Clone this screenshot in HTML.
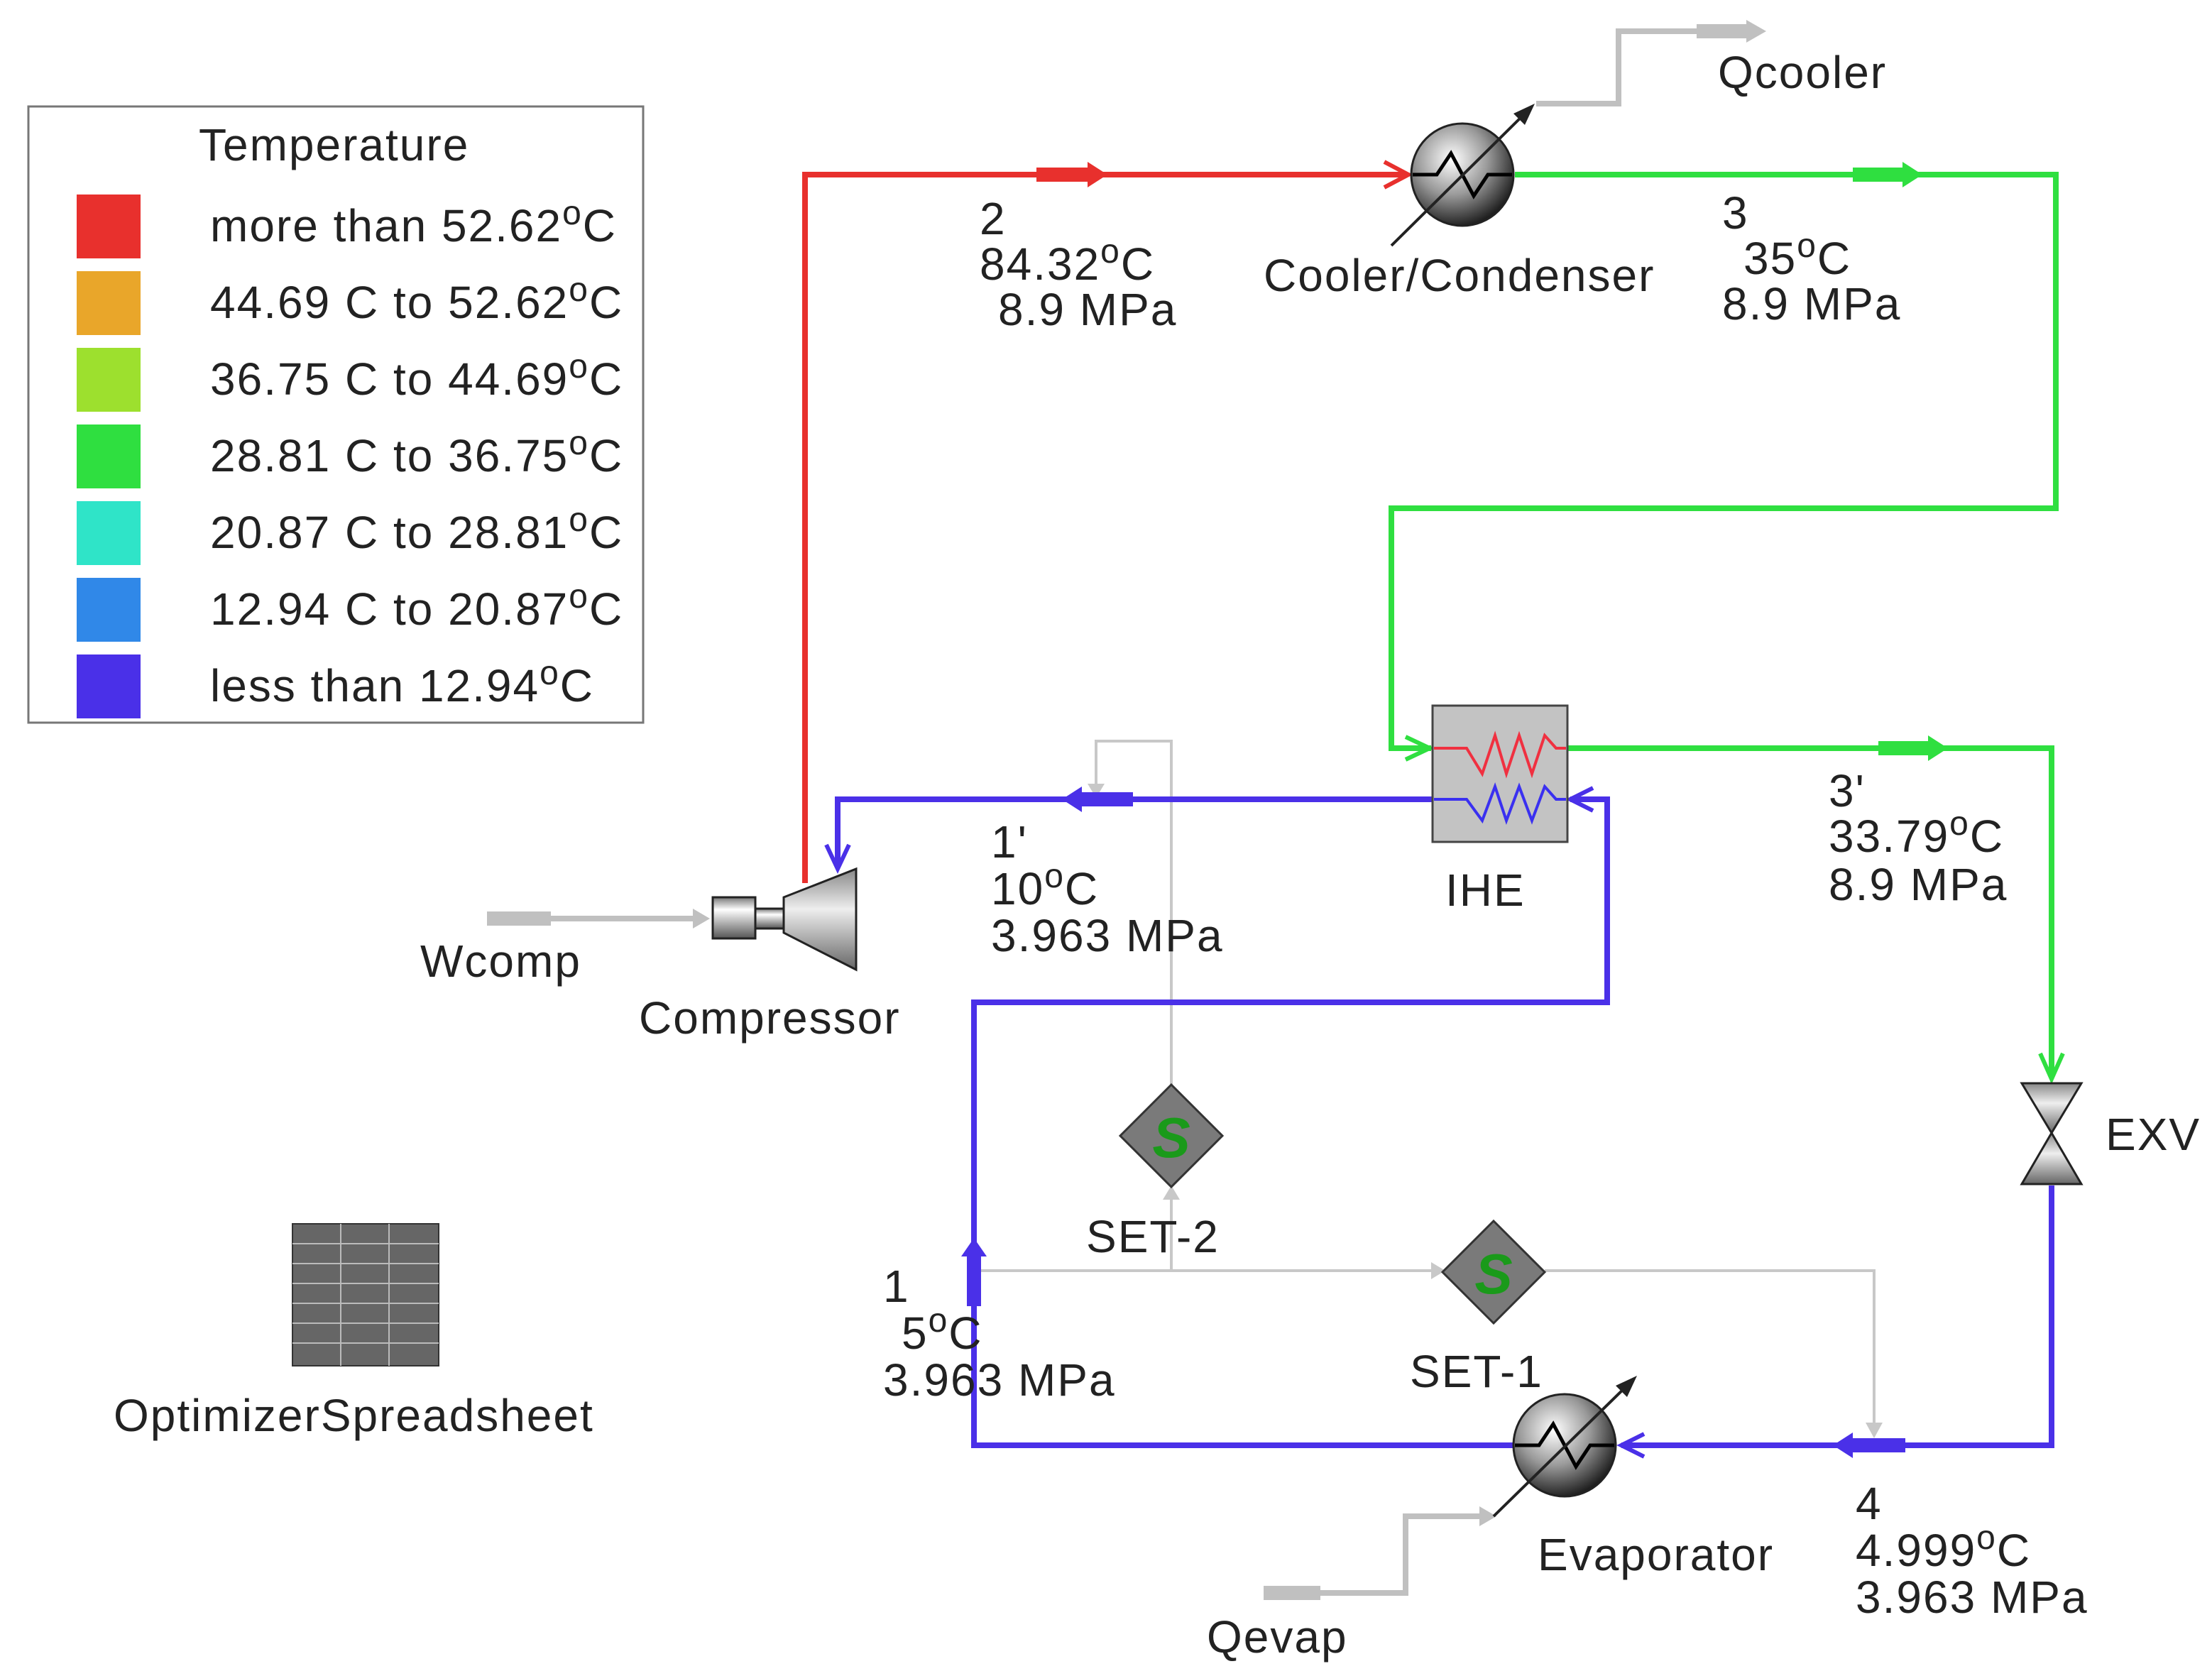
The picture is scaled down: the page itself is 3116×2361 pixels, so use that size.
<!DOCTYPE html>
<html><head><meta charset="utf-8"><style>html,body{margin:0;padding:0;background:#fff}svg{display:block}text{font-family:"Liberation Sans",sans-serif;fill:#222}</style></head><body>
<svg width="3116" height="2361" viewBox="0 0 1558 1180.5" xmlns="http://www.w3.org/2000/svg">
<defs>
<radialGradient id="g1" cx="40%" cy="35%" r="70%"><stop offset="0" stop-color="#fff"/><stop offset="0.5" stop-color="#999"/><stop offset="1" stop-color="#111"/></radialGradient>
<linearGradient id="g2" x1="0" y1="0" x2="0" y2="1"><stop offset="0" stop-color="#777"/><stop offset="0.3" stop-color="#fff"/><stop offset="1" stop-color="#555"/></linearGradient>
<linearGradient id="g3" x1="0" y1="0" x2="0" y2="1"><stop offset="0" stop-color="#888"/><stop offset="0.4" stop-color="#eee"/><stop offset="1" stop-color="#666"/></linearGradient>
</defs>
<rect x="20" y="75" width="433" height="434" fill="#fff" stroke="#777" stroke-width="1.5"/>
<g font-size="32" letter-spacing="1">
<text x="140" y="113">Temperature</text>
<rect x="54" y="137" width="45" height="45" fill="#e8302d"/><text x="148" y="170">more than 52.62<tspan dy="-12" font-size="24">o</tspan><tspan dy="12">C</tspan></text>
<rect x="54" y="191" width="45" height="45" fill="#e9a62a"/><text x="148" y="224">44.69 C to 52.62<tspan dy="-12" font-size="24">o</tspan><tspan dy="12">C</tspan></text>
<rect x="54" y="245" width="45" height="45" fill="#9de02e"/><text x="148" y="278">36.75 C to 44.69<tspan dy="-12" font-size="24">o</tspan><tspan dy="12">C</tspan></text>
<rect x="54" y="299" width="45" height="45" fill="#2fdf40"/><text x="148" y="332">28.81 C to 36.75<tspan dy="-12" font-size="24">o</tspan><tspan dy="12">C</tspan></text>
<rect x="54" y="353" width="45" height="45" fill="#2fe4c8"/><text x="148" y="386">20.87 C to 28.81<tspan dy="-12" font-size="24">o</tspan><tspan dy="12">C</tspan></text>
<rect x="54" y="407" width="45" height="45" fill="#3088e8"/><text x="148" y="440">12.94 C to 20.87<tspan dy="-12" font-size="24">o</tspan><tspan dy="12">C</tspan></text>
<rect x="54" y="461" width="45" height="45" fill="#4a30e8"/><text x="148" y="494">less than 12.94<tspan dy="-12" font-size="24">o</tspan><tspan dy="12">C</tspan></text>
</g>
<g stroke="#c8c8c8" stroke-width="2" fill="none">
<polyline points="825,765 825,522 772,522 772,555"/>
<polyline points="825,895 825,842"/>
<polyline points="686,895 1012,895"/>
<polyline points="1088,895 1320,895 1320,1010"/>
</g>
<g fill="#c8c8c8">
<polygon points="766,552 778,552 772,562"/><polygon points="819,845 831,845 825,835"/><polygon points="1008,889 1008,901 1018,895"/><polygon points="1314,1002 1326,1002 1320,1013"/>
</g>
<g stroke="#c0c0c0" stroke-width="4" fill="none">
<polyline points="343,647 495,647"/>
<polyline points="1082,73 1140,73 1140,22 1235,22"/>
<polyline points="890,1122 990,1122 990,1068 1048,1068"/>
</g>
<g fill="#c0c0c0"><polygon points="488,640 500,647 488,654"/><polygon points="1230,14 1244,22 1230,30"/><polygon points="1042,1061 1054,1068 1042,1075"/><rect x="343" y="642" width="45" height="10"/><rect x="1195" y="17" width="40" height="10"/><rect x="890" y="1117" width="40" height="10"/></g>
<polyline points="567,622 567,123 990,123" stroke="#e8302d" stroke-width="4" fill="none"/>
<rect x="730" y="118" width="40" height="10" fill="#e8302d"/><polygon points="766,114 780,123 766,132" fill="#e8302d"/>
<polyline points="975,114 992,123 975,132" stroke="#e8302d" stroke-width="3" fill="none"/>
<polyline points="1067,123 1448,123 1448,358 980,358 980,527 1008,527" stroke="#2fdf40" stroke-width="4" fill="none"/>
<rect x="1305" y="118" width="40" height="10" fill="#2fdf40"/><polygon points="1340,114 1354,123 1340,132" fill="#2fdf40"/>
<polyline points="990,519 1007,527 990,535" stroke="#2fdf40" stroke-width="3" fill="none"/>
<polyline points="1104,527 1445,527 1445,758" stroke="#2fdf40" stroke-width="4" fill="none"/>
<rect x="1323" y="522" width="40" height="10" fill="#2fdf40"/><polygon points="1358,518 1372,527 1358,536" fill="#2fdf40"/>
<polyline points="1437,742 1445,760 1453,742" stroke="#2fdf40" stroke-width="3" fill="none"/>
<g stroke="#4a30e8" stroke-width="4" fill="none">
<polyline points="1445,835 1445,1018 1142,1018"/>
<polyline points="1066,1018 686,1018 686,706 1132,706 1132,563 1106,563"/>
<polyline points="1009,563 590,563 590,610"/>
</g>
<g fill="#4a30e8">
<rect x="1300" y="1013" width="42" height="10"/><polygon points="1305,1009 1291,1018 1305,1027"/>
<rect x="756" y="558" width="42" height="10"/><polygon points="762,554 748,563 762,572"/>
<rect x="681" y="880" width="10" height="40"/><polygon points="677,885 686,872 695,885"/>
</g>
<g stroke="#4a30e8" stroke-width="3" fill="none"><polyline points="1122,555 1106,563 1122,571"/><polyline points="1158,1010 1142,1018 1158,1026"/><polyline points="582,595 590,612 598,595"/></g>
<rect x="1009" y="497" width="95" height="96" fill="#c3c3c3" stroke="#444" stroke-width="1.5"/>
<polyline points="1010,527 1033,527 1044,545 1053,518 1061,545 1070,518 1079,545 1088,518 1096,527 1103,527" stroke="#f03040" stroke-width="2" fill="none"/>
<polyline points="1010,563 1033,563 1044,578 1053,554 1061,578 1070,554 1079,578 1088,554 1096,563 1103,563" stroke="#3a30f0" stroke-width="2" fill="none"/>
<circle cx="1030" cy="123" r="36" fill="url(#g1)" stroke="#222" stroke-width="1.5"/>
<polyline points="995,123 1012,123 1022,108 1038,138 1048,123 1065,123" stroke="#000" stroke-width="2.5" fill="none"/>
<line x1="980" y1="173" x2="1076" y2="78" stroke="#222" stroke-width="2"/><polygon points="1081,73 1066,80 1074,88" fill="#222"/>
<circle cx="1102" cy="1018" r="36" fill="url(#g1)" stroke="#222" stroke-width="1.5"/>
<polyline points="1067,1018 1084,1018 1094,1003 1110,1033 1120,1018 1137,1018" stroke="#000" stroke-width="2.5" fill="none"/>
<line x1="1052" y1="1068" x2="1148" y2="974" stroke="#222" stroke-width="2"/><polygon points="1153,969 1138,976 1146,984" fill="#222"/>
<polygon points="1424,763 1466,763 1445,798" fill="url(#g3)" stroke="#222" stroke-width="1.5"/>
<polygon points="1424,834 1466,834 1445,798" fill="url(#g3)" stroke="#222" stroke-width="1.5"/>
<rect x="502" y="632" width="30" height="29" fill="url(#g2)" stroke="#222" stroke-width="1.5"/>
<rect x="532" y="640" width="20" height="14" fill="url(#g2)" stroke="#222" stroke-width="1.5"/>
<polygon points="552,632 603,612 603,683 552,657" fill="url(#g3)" stroke="#222" stroke-width="1.5"/>
<polygon points="825,764 861,800 825,836 789,800" fill="#7a7a7a" stroke="#333" stroke-width="1.5"/>
<text x="825" y="815" font-size="40" font-weight="bold" font-style="italic" text-anchor="middle" style="fill:#1a9a1a">S</text>
<polygon points="1052,860 1088,896 1052,932 1016,896" fill="#7a7a7a" stroke="#333" stroke-width="1.5"/>
<text x="1052" y="911" font-size="40" font-weight="bold" font-style="italic" text-anchor="middle" style="fill:#1a9a1a">S</text>
<rect x="206" y="862" width="103" height="100" fill="#666" stroke="#333"/>
<g stroke="#bbb" stroke-width="1"><line x1="240" y1="862" x2="240" y2="962"/><line x1="274" y1="862" x2="274" y2="962"/>
<line x1="206" y1="876" x2="309" y2="876"/><line x1="206" y1="890" x2="309" y2="890"/><line x1="206" y1="904" x2="309" y2="904"/><line x1="206" y1="918" x2="309" y2="918"/><line x1="206" y1="932" x2="309" y2="932"/><line x1="206" y1="946" x2="309" y2="946"/></g>
<g font-size="32" letter-spacing="1">
<text x="1210" y="62">Qcooler</text>
<text x="890" y="205">Cooler/Condenser</text>
<text x="690" y="165">2</text>
<text x="690" y="197">84.32<tspan dy="-12" font-size="24">o</tspan><tspan dy="12">C</tspan></text>
<text x="703" y="229">8.9 MPa</text>
<text x="1213" y="161">3</text>
<text x="1228" y="193">35<tspan dy="-12" font-size="24">o</tspan><tspan dy="12">C</tspan></text>
<text x="1213" y="225">8.9 MPa</text>
<text x="1018" y="638">IHE</text>
<text x="1288" y="568">3'</text>
<text x="1288" y="600">33.79<tspan dy="-12" font-size="24">o</tspan><tspan dy="12">C</tspan></text>
<text x="1288" y="634">8.9 MPa</text>
<text x="698" y="604">1'</text>
<text x="698" y="637">10<tspan dy="-12" font-size="24">o</tspan><tspan dy="12">C</tspan></text>
<text x="698" y="670">3.963 MPa</text>
<text x="296" y="688">Wcomp</text>
<text x="450" y="728">Compressor</text>
<text x="1483" y="810">EXV</text>
<text x="765" y="882">SET-2</text>
<text x="993" y="977">SET-1</text>
<text x="622" y="917">1</text>
<text x="635" y="950">5<tspan dy="-12" font-size="24">o</tspan><tspan dy="12">C</tspan></text>
<text x="622" y="983">3.963 MPa</text>
<text x="80" y="1008">OptimizerSpreadsheet</text>
<text x="1083" y="1106">Evaporator</text>
<text x="1307" y="1070">4</text>
<text x="1307" y="1103">4.999<tspan dy="-12" font-size="24">o</tspan><tspan dy="12">C</tspan></text>
<text x="1307" y="1136">3.963 MPa</text>
<text x="850" y="1164">Qevap</text>
</g>
</svg>
</body></html>
